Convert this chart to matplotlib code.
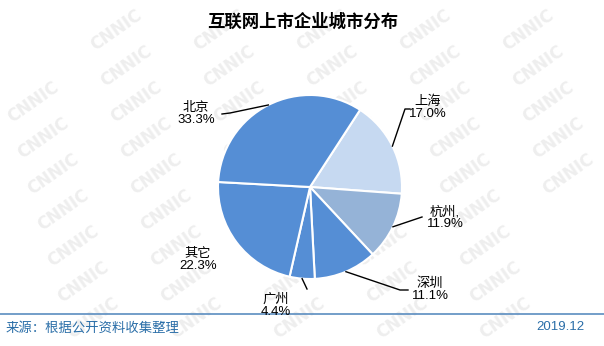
import numpy as np
import matplotlib
matplotlib.use('Agg')
import matplotlib.pyplot as plt

plt.rcParams['font.family'] = ['Liberation Sans', 'Noto Sans CJK SC', 'DejaVu Sans']

# 数据
cities = ['上海', '杭州', '深圳', '广州', '其它', '北京']
shares = [17.0, 11.9, 11.1, 4.4, 22.3, 33.3]
colors = ['#C6D9F1', '#95B3D7', '#558ED5', '#558ED5', '#558ED5', '#558ED5']
city_labels = ['上海', '杭州,', '深圳', '广州', '其它', '北京']

W, H = 604, 346
fig = plt.figure(figsize=(W / 100, H / 100), dpi=100)
ax = fig.add_axes([0, 0, 1, 1])

def py(y):
    return H - y

# 水印 CNNIC
for row in range(9):
    yy = 30 + 36 * row
    base = 13 + 10 * row
    for k in range(-1, 7):
        x0 = base + 103 * k
        if x0 < 32 or x0 > 572:
            continue
        ax.text(x0, py(yy), 'CNNIC', fontsize=12, fontweight='bold', color='#EEEEEE',
                rotation=35, ha='center', va='center', family='DejaVu Sans', zorder=0)

cx, cy, r = 310, py(187), 92
wedges, _ = ax.pie(shares, colors=colors, startangle=57, counterclock=False,
                   center=(cx, cy), radius=r, frame=True,
                   wedgeprops=dict(edgecolor='white', linewidth=1.5))
ax.set_xlim(0, W)
ax.set_ylim(0, H)
ax.set_aspect('equal')
ax.axis('off')

# 标签位置 (像素)
label_pos = [(428, 108), (445, 218), (430, 290), (276, 306), (198, 260), (196, 114)]
elbows = [[(405, 109), (410, 109)], [(422, 217)], [(400, 290), (408, 290)],
          [(307, 289)], None, [(230, 113), (222, 114)]]

for w, name, val, (lx, lyy), el in zip(wedges, city_labels, shares, label_pos, elbows):
    mid = np.deg2rad((w.theta1 + w.theta2) / 2)
    if el is not None:
        ex, ey = cx + r * np.cos(mid), cy + r * np.sin(mid)
        xs = [ex] + [p[0] for p in el]
        ys = [ey] + [py(p[1]) for p in el]
        ax.plot(xs, ys, color='black', lw=1, zorder=3)
    ax.text(lx, py(lyy), f'{name}\n{val:.1f}%', ha='center', va='center',
            fontsize=9.5, linespacing=1.0, zorder=4)

ax.text(303, py(22), '互联网上市企业城市分布', ha='center', va='center',
        fontsize=12.5, fontweight='bold', family=['Noto Sans CJK SC'])

ax.plot([0, W], [py(314), py(314)], color='#5B8DC0', lw=1.2)
ax.text(6, py(328), '来源：根据公开资料收集整理', ha='left', va='center',
        fontsize=9.6, color='#2A6EA8', family=['Noto Sans CJK SC'])
ax.text(584, py(327), '2019.12', ha='right', va='center', fontsize=9.5, color='#2A6EA8')

fig.savefig('out.png', dpi=100)
